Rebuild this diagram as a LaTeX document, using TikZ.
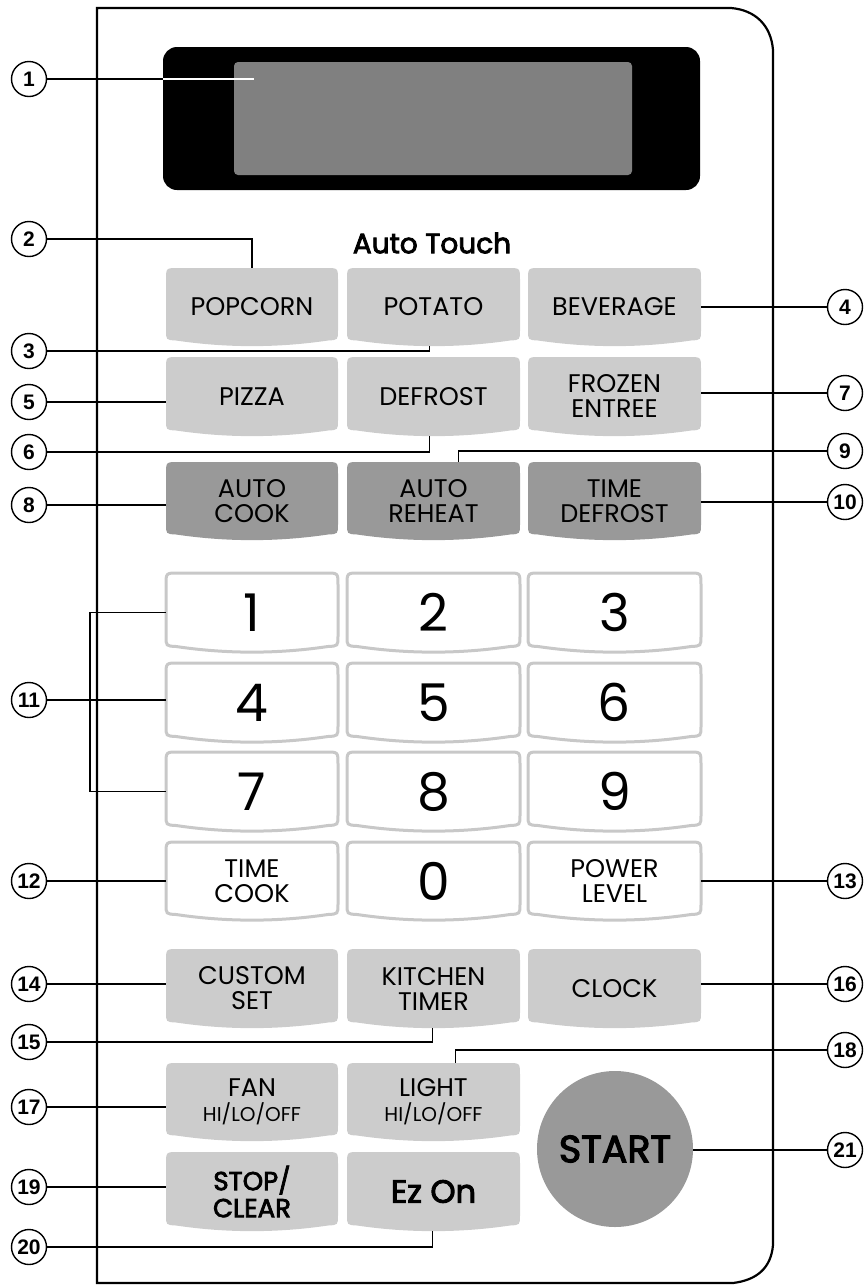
\documentclass[tikz,border=0pt]{standalone}
\usepackage{fontspec}
\setmainfont{Poppins}
\newfontfamily\medfont{Poppins}[FakeBold=3]
\newfontfamily\callfont{Liberation Sans}
\usetikzlibrary{calc}
\definecolor{keylight}{HTML}{CCCCCC}
\definecolor{keydark}{HTML}{999999}
\definecolor{keyedge}{HTML}{C8C8C8}
\definecolor{lcdgray}{HTML}{808080}
\tikzset{
  lbl/.style={font=\fontsize{25.5}{25}\selectfont},
  numlbl/.style={font=\fontsize{52}{52}\selectfont},
  boldlbl/.style={font=\medfont\fontsize{26}{27}\selectfont},
  keylightshape/.style={fill=keylight},
  keydarkshape/.style={fill=keydark},
  keynumshape/.style={fill=white, draw=keyedge, line width=3pt},
  callout/.style={circle, draw, fill=white, line width=1.4pt, minimum size=35pt, inner sep=0pt,
    font=\callfont\bfseries\fontsize{21}{21}\selectfont},
  conn/.style={line width=1.2pt},
}
% name, L, T, R, B(side bottom), shape style, label style, label
\newcommand\keybtn[8]{%
  \path[#6] (#2+12,#3) -- (#4-12,#3) .. controls (#4,#3) .. (#4,#3+12)
    -- (#4,#5-10) .. controls (#4,#5) .. (#4-10,#5+0.5)
    .. controls ({#4-10-(#4-#2-20)/3},#5+8) and ({#2+10+(#4-#2-20)/3},#5+8) .. (#2+10,#5+0.5)
    .. controls (#2,#5) .. (#2,#5-10) -- (#2,#3+12) .. controls (#2,#3) .. (#2+12,#3) -- cycle;
  \pgfmathsetmacro\kw{#4-#2}%
  \pgfmathsetmacro\kh{#5+6-#3}%
  \node[#7, align=center, inner sep=0pt, minimum width=\kw pt, minimum height=\kh pt]
    (#1) at ({(#2+#4)/2},{(#3+#5+6)/2}) {#8};%
}
\begin{document}
\begin{tikzpicture}[x=1pt,y=-1pt]
\useasboundingbox (0,0) rectangle (866,1286);
% panel outline
\draw[line width=2.2pt] (97,8) -- (731,8) .. controls (755,10) and (771,25) .. (773,50)
  -- (773,1245) .. controls (771,1268) and (757,1280) .. (733,1283) -- (97,1283) -- cycle;
% display
\node[fill=black, rounded corners=14pt, minimum width=537pt, minimum height=143pt, inner sep=0pt] (disp) at (431.5,118.5) {};
\node[fill=lcdgray, rounded corners=4pt, minimum width=398pt, minimum height=113pt, inner sep=0pt] (lcd) at (433,118.5) {};
% Auto Touch
\node[font=\medfont\fontsize{28}{28}\selectfont, inner sep=0pt] (autotouch) at (432,243) {Auto Touch};
% keys
\keybtn{popcorn}{166}{268}{338}{340}{keylightshape}{lbl}{POPCORN}
\keybtn{potato}{347}{268}{520}{340}{keylightshape}{lbl}{POTATO}
\keybtn{beverage}{528}{268}{701}{340}{keylightshape}{lbl}{BEVERAGE}
\keybtn{pizza}{166}{357}{338}{430}{keylightshape}{lbl}{PIZZA}
\keybtn{defrost}{347}{357}{520}{430}{keylightshape}{lbl}{DEFROST}
\keybtn{frozen}{528}{357}{701}{430}{keylightshape}{lbl}{FROZEN\\ENTREE}
\keybtn{autocook}{166}{462}{338}{534}{keydarkshape}{lbl}{AUTO\\COOK}
\keybtn{reheat}{347}{462}{520}{534}{keydarkshape}{lbl}{AUTO\\REHEAT}
\keybtn{timedef}{528}{462}{701}{534}{keydarkshape}{lbl}{TIME\\DEFROST}
\keybtn{k1}{166}{573}{338}{646}{keynumshape}{numlbl}{1}
\keybtn{k2}{347}{573}{520}{646}{keynumshape}{numlbl}{2}
\keybtn{k3}{528}{573}{701}{646}{keynumshape}{numlbl}{3}
\keybtn{k4}{166}{663}{338}{736}{keynumshape}{numlbl}{4}
\keybtn{k5}{347}{663}{520}{736}{keynumshape}{numlbl}{5}
\keybtn{k6}{528}{663}{701}{736}{keynumshape}{numlbl}{6}
\keybtn{k7}{166}{752}{338}{825}{keynumshape}{numlbl}{7}
\keybtn{k8}{347}{752}{520}{825}{keynumshape}{numlbl}{8}
\keybtn{k9}{528}{752}{701}{825}{keynumshape}{numlbl}{9}
\keybtn{timecook}{166}{842}{338}{914}{keynumshape}{lbl}{TIME\\COOK}
\keybtn{k0}{347}{842}{520}{914}{keynumshape}{numlbl}{0}
\keybtn{power}{528}{842}{701}{914}{keynumshape}{lbl}{POWER\\LEVEL}
\keybtn{custom}{166}{949}{338}{1022}{keylightshape}{lbl}{CUSTOM\\SET}
\keybtn{timer}{347}{949}{520}{1022}{keylightshape}{lbl}{KITCHEN\\TIMER}
\keybtn{clock}{528}{949}{701}{1022}{keylightshape}{lbl}{CLOCK}
\keybtn{fan}{166}{1063}{338}{1135}{keylightshape}{lbl}{FAN\\{\fontsize{20}{20}\selectfont HI/LO/OFF}}
\keybtn{lightk}{347}{1063}{520}{1135}{keylightshape}{lbl}{LIGHT\\{\fontsize{20}{20}\selectfont HI/LO/OFF}}
\keybtn{stop}{166}{1152}{338}{1225}{keylightshape}{boldlbl}{STOP/\\CLEAR}
\keybtn{ezon}{347}{1152}{520}{1225}{keylightshape}{font=\medfont\fontsize{32}{32}\selectfont}{Ez On}
\node[circle, fill=keydark, minimum size=156pt, inner sep=0pt, font=\medfont\fontsize{38}{38}\selectfont] (start) at (615,1149) {START};
% callout circles
\node[callout] (c1) at (29,79) {1};
\node[callout] (c2) at (29,239) {2};
\node[callout] (c3) at (29,351) {3};
\node[callout] (c4) at (845,307) {4};
\node[callout] (c5) at (29,402) {5};
\node[callout] (c6) at (29,452) {6};
\node[callout] (c7) at (845,393) {7};
\node[callout] (c8) at (29,505) {8};
\node[callout] (c9) at (845,451) {9};
\node[callout] (c10) at (845,502) {10};
\node[callout] (c11) at (29,700) {11};
\node[callout] (c12) at (29,881) {12};
\node[callout] (c13) at (845,881) {13};
\node[callout] (c14) at (29,984) {14};
\node[callout] (c15) at (29,1042) {15};
\node[callout] (c16) at (845,984) {16};
\node[callout] (c17) at (29,1107) {17};
\node[callout] (c18) at (845,1050) {18};
\node[callout] (c19) at (29,1187) {19};
\node[callout] (c20) at (29,1247) {20};
\node[callout] (c21) at (845,1150) {21};
\coordinate (p1) at (254,79);
\coordinate (brk) at (90,700);
% connectors
\draw[conn] (c1) -- (c1 -| disp.west);
\draw[conn, white] (c1 -| disp.west) -- (p1);
\draw[conn] (c2) -| (popcorn.north);
\draw[conn] (c3) -| ([xshift=-4pt]potato.south);
\draw[conn] (c4 -| beverage.east) -- (c4);
\draw[conn] (c5) -- (c5 -| pizza.west);
\draw[conn] (c6) -| ([xshift=-4pt]defrost.south);
\draw[conn] (c7 -| frozen.east) -- (c7);
\draw[conn] (c8) -- (c8 -| autocook.west);
\draw[conn] (c9) -| ([xshift=25pt]reheat.north);
\draw[conn] (c10 -| timedef.east) -- (c10);
\draw[conn] (c11) -- (c11 -| k4.west);
\draw[conn] (k1.west) -| (brk) |- (k7.west);
\draw[conn] (c12) -- (c12 -| timecook.west);
\draw[conn] (c13 -| power.east) -- (c13);
\draw[conn] (c14) -- (c14 -| custom.west);
\draw[conn] (c15) -| ([xshift=-1pt]timer.south);
\draw[conn] (c16 -| clock.east) -- (c16);
\draw[conn] (c17) -- (c17 -| fan.west);
\draw[conn] (c18) -| ([xshift=22pt]lightk.north);
\draw[conn] (c19) -- (c19 -| stop.west);
\draw[conn] (c20) -| ([xshift=-1pt]ezon.south);
\draw[conn] (c21 -| start.east) -- (c21);
\end{tikzpicture}
\end{document}
